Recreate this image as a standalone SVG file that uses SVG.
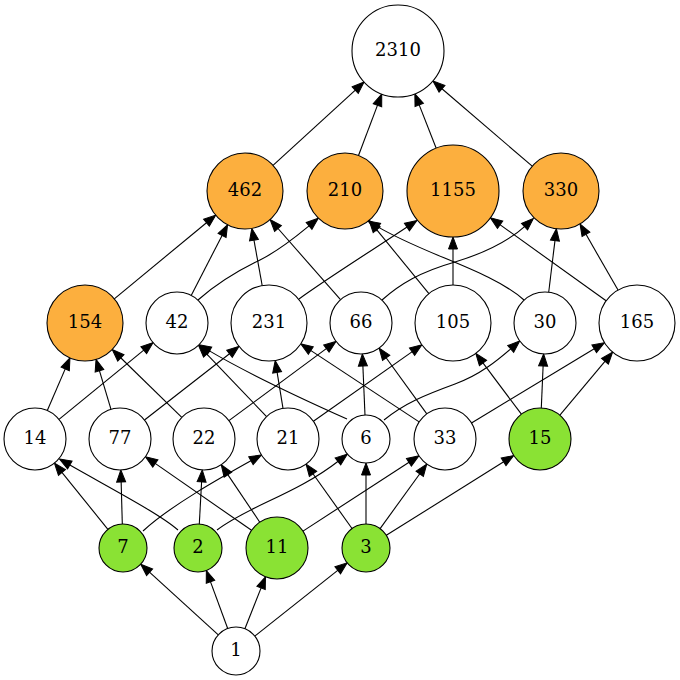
<svg xmlns="http://www.w3.org/2000/svg" width="680" height="680" viewBox="0 0 680 680">
<style>
.n circle{stroke:#000;stroke-width:1.1;fill:#fff}
.n.o circle{fill:#fcaf3e}
.n.g circle{fill:#8ae234}
.n text{font-family:"DejaVu Serif","Liberation Serif",serif;font-size:18px;text-anchor:middle;fill:#000}
#edges path{fill:none;stroke:#000;stroke-width:1.1;marker-end:url(#ah)}
</style>
<defs>
<marker id="ah" markerWidth="14" markerHeight="11" refX="2" refY="4.5" orient="auto" markerUnits="userSpaceOnUse" overflow="visible">
<path d="M0,0 L12,4.5 L0,9 z" fill="#000" stroke="#000" stroke-width="1"/>
</marker>
</defs>
<rect width="680" height="680" fill="#fff"/>
<g id="edges">
<path d="M218.3,634.8 L148.1,570.9"/>
<path d="M227.7,628.5 L209.8,579.9"/>
<path d="M244.9,628.7 L261.8,586.1"/>
<path d="M254.8,636.1 L339.3,569.1"/>
<path d="M107.9,529.3 L60.7,470.9"/>
<path d="M122.3,524 L121.1,480"/>
<path d="M143,531 C170,506 220,478 252.7,459.8"/>
<path d="M178,530 C160,514 110,488 68.1,464"/>
<path d="M199.3,524 L201.7,479.9"/>
<path d="M217,530 C250,505 295,495 339.5,460.2"/>
<path d="M251.5,530.3 L153.7,462.4"/>
<path d="M259.8,522.2 L226.8,473.1"/>
<path d="M303,531.1 L410.6,461.3"/>
<path d="M352,528.5 L311.9,472.3"/>
<path d="M366,524 L366,473"/>
<path d="M380.1,528.6 L420.9,472.2"/>
<path d="M386.3,535.3 L505.3,460.8"/>
<path d="M47.3,410.5 L66,367.1"/>
<path d="M59,419.4 L145.3,348.9"/>
<path d="M111,409.3 L98.9,368.9"/>
<path d="M144.5,420 L231.1,352.5"/>
<path d="M181.8,417.4 L119.4,356.5"/>
<path d="M228.9,420.6 L328,347.4"/>
<path d="M266.6,416.6 L205.4,352.6"/>
<path d="M283,408.4 L276.8,370.4"/>
<path d="M313.4,421.2 L413.7,350.6"/>
<path d="M347,419 C300,398 245,372 207.7,349.9"/>
<path d="M365,415 L362.8,364"/>
<path d="M384,420 C405,403 425,395 455,384 C480,375 498,360 512.2,347.6"/>
<path d="M419.1,421.9 L309.1,349.4"/>
<path d="M426.8,413.9 L385,356.2"/>
<path d="M471.5,423 L595.9,347.8"/>
<path d="M521.4,414.2 L481.8,361.4"/>
<path d="M541.3,408 L543.2,364"/>
<path d="M559.9,415.2 L606.2,359.8"/>
<path d="M114.3,298.8 L208,221.5"/>
<path d="M191.2,295.4 L223,233.7"/>
<path d="M198,300 C215,285 235,272 260,260 C282,249 298,235 310.6,224.6"/>
<path d="M262.2,285.6 L253.6,238.2"/>
<path d="M299,299 C325,280 365,255 408.6,226"/>
<path d="M340.5,299.7 L276.7,227"/>
<path d="M382,300 C400,284 420,272 455,262 C488,252 510,240 526,225.3"/>
<path d="M428.9,293.6 L375.4,228.2"/>
<path d="M453,285 L453,247"/>
<path d="M524,300 C490,270 425,255 376.6,226.1"/>
<path d="M548.7,292.2 L555.2,238.6"/>
<path d="M606.1,300.8 L498.5,223.6"/>
<path d="M618,290.1 L585,232.6"/>
<path d="M273,165.4 L356.7,88.8"/>
<path d="M358.5,155.5 L378.2,103.4"/>
<path d="M436.2,148.2 L418.5,103.1"/>
<path d="M532.2,166.2 L440.5,87.5"/>
</g>
<g id="n2310" class="n"><circle cx="398" cy="51" r="46"/><text x="398" y="56">2310</text></g>
<g id="n462" class="n o"><circle cx="245" cy="191" r="38"/><text x="245" y="196">462</text></g>
<g id="n210" class="n o"><circle cx="345" cy="191" r="38"/><text x="345" y="196">210</text></g>
<g id="n1155" class="n o"><circle cx="453" cy="191" r="46"/><text x="453" y="196">1155</text></g>
<g id="n330" class="n o"><circle cx="561" cy="191" r="38"/><text x="561" y="196">330</text></g>
<g id="n154" class="n o"><circle cx="85" cy="323" r="38"/><text x="85" y="328">154</text></g>
<g id="n42" class="n"><circle cx="177" cy="323" r="31"/><text x="177" y="328">42</text></g>
<g id="n231" class="n"><circle cx="269" cy="323" r="38"/><text x="269" y="328">231</text></g>
<g id="n66" class="n"><circle cx="361" cy="323" r="31"/><text x="361" y="328">66</text></g>
<g id="n105" class="n"><circle cx="453" cy="323" r="38"/><text x="453" y="328">105</text></g>
<g id="n30" class="n"><circle cx="545" cy="323" r="31"/><text x="545" y="328">30</text></g>
<g id="n165" class="n"><circle cx="637" cy="323" r="38"/><text x="637" y="328">165</text></g>
<g id="n14" class="n"><circle cx="35" cy="439" r="31"/><text x="35" y="444">14</text></g>
<g id="n77" class="n"><circle cx="120" cy="439" r="31"/><text x="120" y="444">77</text></g>
<g id="n22" class="n"><circle cx="204" cy="439" r="31"/><text x="204" y="444">22</text></g>
<g id="n21" class="n"><circle cx="288" cy="439" r="31"/><text x="288" y="444">21</text></g>
<g id="n6" class="n"><circle cx="366" cy="439" r="24"/><text x="366" y="444">6</text></g>
<g id="n33" class="n"><circle cx="445" cy="439" r="31"/><text x="445" y="444">33</text></g>
<g id="n15" class="n g"><circle cx="540" cy="439" r="31"/><text x="540" y="444">15</text></g>
<g id="n7" class="n g"><circle cx="123" cy="548" r="24"/><text x="123" y="553">7</text></g>
<g id="n2" class="n g"><circle cx="198" cy="548" r="24"/><text x="198" y="553">2</text></g>
<g id="n11" class="n g"><circle cx="277" cy="548" r="31"/><text x="277" y="553">11</text></g>
<g id="n3" class="n g"><circle cx="366" cy="548" r="24"/><text x="366" y="553">3</text></g>
<g id="n1" class="n"><circle cx="236" cy="651" r="24"/><text x="236" y="656">1</text></g>
</svg>
